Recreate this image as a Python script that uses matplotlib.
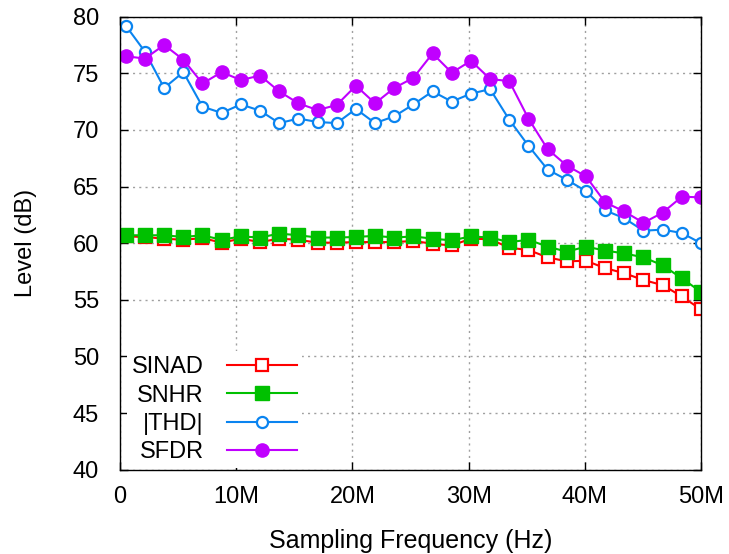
import matplotlib
matplotlib.use("Agg")
import matplotlib.pyplot as plt
from matplotlib.ticker import FuncFormatter

# sampling frequency (MHz) of each measurement
freq_mhz = [0.5, 2.15, 3.8, 5.45, 7.1, 8.75, 10.4, 12.05, 13.7, 15.35, 17.0,
            18.65, 20.3, 21.95, 23.6, 25.25, 26.9, 28.55, 30.2, 31.85, 33.5,
            35.15, 36.8, 38.45, 40.1, 41.75, 43.4, 45.05, 46.7, 48.35, 50.0]

sinad = [60.6, 60.55, 60.4, 60.3, 60.45, 60.05, 60.4, 60.1, 60.4, 60.3, 60.05,
         60.05, 60.1, 60.1, 60.1, 60.2, 59.95, 59.8, 60.4, 60.35, 59.6,
         59.4, 58.75, 58.4, 58.45, 57.8, 57.35, 56.75, 56.3, 55.3, 54.15]
snhr = [60.7, 60.7, 60.7, 60.55, 60.7, 60.3, 60.6, 60.5, 60.85, 60.7, 60.5,
        60.5, 60.55, 60.65, 60.5, 60.6, 60.4, 60.25, 60.6, 60.5, 60.1,
        60.3, 59.7, 59.25, 59.7, 59.35, 59.1, 58.75, 58.05, 56.9, 55.7]
thd = [79.2, 76.9, 73.7, 75.1, 72.05, 71.5, 72.25, 71.7, 70.6, 71.0, 70.7,
       70.6, 71.85, 70.6, 71.2, 72.25, 73.4, 72.5, 73.2, 73.6, 70.9,
       68.6, 66.5, 65.6, 64.6, 62.9, 62.2, 61.1, 61.2, 60.9, 60.0]
sfdr = [76.5, 76.3, 77.5, 76.2, 74.1, 75.1, 74.4, 74.8, 73.4, 72.35, 71.75,
        72.2, 73.9, 72.35, 73.7, 74.6, 76.75, 75.05, 76.1, 74.5, 74.3,
        71.0, 68.3, 66.85, 65.9, 63.6, 62.8, 61.8, 62.7, 64.1, 64.05]

freq_hz = [f * 1e6 for f in freq_mhz]

plt.rcParams["font.family"] = ["Liberation Sans", "DejaVu Sans"]
fs = 17

fig = plt.figure(figsize=(7.29, 5.54), dpi=100)
ax = fig.add_axes([0.1646, 0.152, 0.797, 0.818])

ax.plot(freq_hz, sinad, color="#ff0000", lw=1.5, marker="s", ms=8.5,
        mfc="white", mec="#ff0000", mew=1.6, label="SINAD")
ax.plot(freq_hz, snhr, color="#00c000", lw=1.5, marker="s", ms=9.5,
        mfc="#00c000", mec="#00c000", label="SNHR")
ax.plot(freq_hz, thd, color="#0a84f0", lw=1.5, marker="o", ms=8,
        mfc="white", mec="#0a84f0", mew=1.6, label="|THD|")
ax.plot(freq_hz, sfdr, color="#c000ff", lw=1.5, marker="o", ms=9.5,
        mfc="#c000ff", mec="#c000ff", label="SFDR")

ax.set_xlim(0, 50e6)
ax.set_ylim(40, 80)
ax.set_xticks([0, 10e6, 20e6, 30e6, 40e6, 50e6])
ax.set_yticks(range(40, 81, 5))
ax.xaxis.set_major_formatter(FuncFormatter(
    lambda v, p: "0" if v == 0 else f"{int(v / 1e6)}M"))

ax.grid(True, color="#a0a0a0", linestyle=(0, (1.5, 3)), linewidth=1)
ax.tick_params(direction="in", top=True, right=True, length=6, width=1,
               labelsize=fs)
ax.tick_params(axis="y", pad=15)
ax.tick_params(axis="x", pad=12)
for s in ax.spines.values():
    s.set_linewidth(1)

ax.set_xlabel("Sampling Frequency (Hz)", fontsize=18)
ax.set_ylabel("Level (dB)", fontsize=fs)
ax.xaxis.set_label_coords(0.5, -0.13)
ax.yaxis.set_label_coords(-0.142, 0.5)

leg = ax.legend(loc="lower left", bbox_to_anchor=(0.012, 0.004),
                borderaxespad=0, markerfirst=False, handlelength=2.95,
                fontsize=fs, frameon=True, framealpha=1, facecolor="white",
                edgecolor="none", borderpad=0.2, labelspacing=0.27,
                handletextpad=1.0, fancybox=False)

fig.savefig("out.png", dpi=100)
